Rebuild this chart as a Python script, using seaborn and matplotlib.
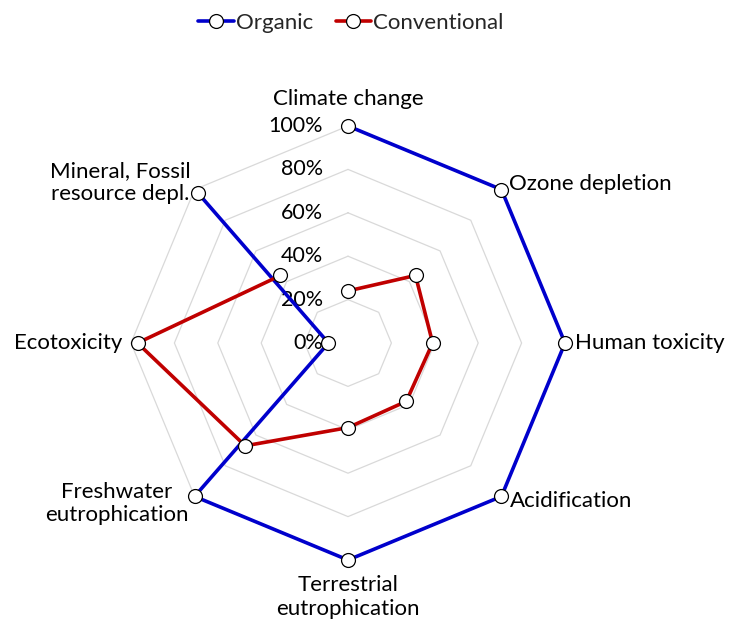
import numpy as np
import pandas as pd
import matplotlib
matplotlib.use("Agg")
import matplotlib.pyplot as plt
import seaborn as sns
from matplotlib.lines import Line2D

categories = ["Climate change", "Ozone depletion", "Human toxicity", "Acidification",
              "Terrestrial\neutrophication", "Freshwater\neutrophication", "Ecotoxicity",
              "Mineral, Fossil\nresource depl."]
organic = [100, 100, 100, 100, 100, 100, 9, 98]
conventional = [24, 44, 39, 38, 39, 67, 97, 44]
series_names = ["Organic", "Conventional"]
tick_values = [0, 20, 40, 60, 80, 100]
tick_labels = ["0%", "20%", "40%", "60%", "80%", "100%"]

sns.set_theme(style="white")
plt.rcParams['font.family'] = ['Lato', 'DejaVu Sans']

colors = {"Organic": "#0000CC", "Conventional": "#C00000"}
FS = 16
LW = 2.6

n = len(categories)
theta = np.arange(n) * 2 * np.pi / n

rows = []
for name, vals in zip(series_names, [organic, conventional]):
    for i in range(n + 1):
        rows.append({"series": name, "theta": theta[i % n], "value": vals[i % n], "order": i})
df = pd.DataFrame(rows)

fig = plt.figure(figsize=(7.37, 6.27), dpi=100)
cx, cy, R = 348 / 737, (627 - 343) / 627, 217
ax = fig.add_axes([cx - R / 737, cy - R / 627, 2 * R / 737, 2 * R / 627], projection="polar")
ax.set_theta_zero_location("N")
ax.set_theta_direction(-1)
ax.set_ylim(0, 100)
ax.grid(False)
ax.spines["polar"].set_visible(False)
ax.set_xticks([])
ax.set_yticks([])
ax.patch.set_alpha(0)

# polygon gridlines
tt = np.append(theta, theta[0])
for v in tick_values[1:]:
    ax.plot(tt, [v] * (n + 1), color="#D9D9D9", lw=0.9, zorder=1, clip_on=False)

for name in series_names:
    sub = df[df.series == name]
    sns.lineplot(data=sub, x="theta", y="value", sort=False, ax=ax, color=colors[name],
                 lw=LW, marker="o", markersize=10, markerfacecolor="white",
                 markeredgecolor="black", markeredgewidth=0.9, legend=False, zorder=3)
for ln in ax.lines:
    ln.set_clip_on(False)
ax.set_xlabel("")
ax.set_ylabel("")
ax.set_ylim(0, 100)

for v, lab in zip(tick_values, tick_labels):
    ax.annotate(lab, xy=(0, v), xytext=(-25, 0), textcoords="offset pixels",
                ha="right", va="center", fontsize=FS - 0.5, color="black", zorder=2)

offsets = [((0, 27), "center"), ((8, 6), "left"), ((10, 0), "left"), ((8, -5), "left"),
           ((0, -37), "center"), ((-6, -7), "right"), ((-9, 0), "right"), ((-4, 7), "right")]
for i, cat in enumerate(categories):
    (dx, dy), ha = offsets[i]
    ax.annotate(cat, xy=(theta[i], 100), xytext=(dx, dy), textcoords="offset pixels",
                ha=ha, va="center", multialignment="center", fontsize=FS,
                color="black", annotation_clip=False)

handles = [Line2D([0], [0], color=colors[s], lw=LW, marker="o", markersize=10,
                  markerfacecolor="white", markeredgecolor="black", markeredgewidth=0.9)
           for s in series_names]
fig.legend(handles, series_names, loc="center", bbox_to_anchor=(351 / 737, 1 - 23 / 627),
           ncol=2, frameon=False, fontsize=FS, handlelength=1.6, handletextpad=0.1,
           columnspacing=1.0)

fig.savefig("out.png", dpi=100, facecolor="white")
